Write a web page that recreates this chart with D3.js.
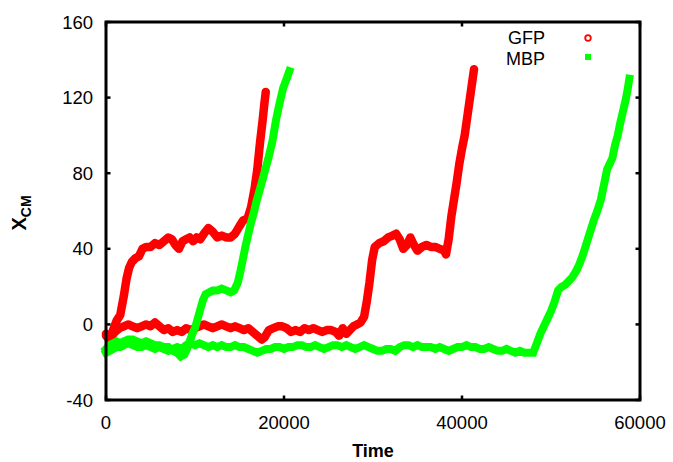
<!DOCTYPE html>
<html>
<head>
<meta charset="utf-8">
<script src="https://cdn.jsdelivr.net/npm/d3@7"></script>
<style>
  html, body { margin: 0; padding: 0; background: #fff; }
  svg { display: block; }
  text { font-family: "Liberation Sans", Arial, Helvetica, sans-serif; fill: #000; }
</style>
</head>
<body>
<svg id="chart" width="673" height="462"></svg>
<script>
// ---- data (time, X_CM) ----
const gfpRun1 = [
  [0,-6],[400,-8],[800,-3],[1200,2],[1600,5],[2000,15],[2300,24],[2600,30],[2900,33],[3300,35],
  [3700,36],[4100,40],[4500,41],[5000,41],[5500,43],[6000,42],[6500,44],[7000,46],[7400,45],[7800,42],
  [8200,40],[8600,44],[9000,45],[9400,46],[9800,44],[10200,46],[10600,45],[11000,48],[11500,51],[12000,49],
  [12500,46],[13000,47],[13500,46],[14000,46],[14500,48],[15000,52],[15400,55],[15900,56],[16300,62],[16700,72],
  [17000,82],[17300,96],[17600,108],[17800,117],[17950,123]
];
const gfpRun2 = [
  [0,-5],[500,-7],[1000,-4],[1500,-2],[2000,-1],[2500,0],[3000,-1],[3500,-2],[4000,-1],[4500,0],
  [5000,-1],[5500,1],[6000,-1],[6500,-3],[7000,-2],[7500,-4],[8000,-3],[8500,-4],[9000,-2],[9500,-3],
  [10000,-2],[10500,-1],[11000,0],[11500,-1],[12000,-2],[12500,-1],[13000,0],[13500,-1],[14000,-2],[14500,-1],
  [15000,-2],[15500,-3],[16000,-2],[16500,-4],[17000,-6],[17500,-8],[17800,-7],[18300,-3],[18800,-2],[19300,-1],
  [19800,-1],[20300,-2],[20800,-4],[21300,-3],[21800,-4],[22300,-2],[22800,-3],[23300,-2],[23800,-3],[24300,-4],
  [24800,-3],[25300,-3],[25800,-4],[26200,-6],[26600,-2],[27000,-5],[27400,-3],[27800,-1],[28200,0],[28600,1],
  [29000,4],[29300,12],[29600,22],[29900,34],[30200,41],[30700,43],[31200,44],[31700,46],[32200,47],[32600,48],
  [33000,45],[33400,40],[33800,42],[34200,46],[34600,42],[35000,39],[35500,41],[36000,42],[36500,41],[37000,41],
  [37500,40],[38000,39],[38200,37],[38500,45],[38800,57],[39100,66],[39400,75],[39700,85],[40000,93],[40300,100],
  [40600,110],[40900,120],[41200,130],[41350,135]
];
const mbpRun1 = [
  [0,-13],[400,-11],[800,-10],[1200,-9],[1600,-10],[2000,-9],[2500,-8],[3000,-8],[3500,-9],[4000,-10],
  [4500,-9],[5000,-10],[5500,-11],[6000,-11],[6500,-12],[7000,-12],[7500,-14],[8000,-15],[8400,-17],[8800,-16],
  [9100,-13],[9400,-9],[9700,-5],[10000,-2],[10300,3],[10600,8],[10900,13],[11200,16],[11600,17],[12000,18],
  [12500,18],[13000,19],[13500,18],[14000,17],[14400,18],[14800,22],[15100,28],[15400,35],[15700,42],[16000,48],
  [16300,54],[16600,59],[16900,65],[17200,70],[17500,75],[17900,82],[18300,89],[18700,97],[19100,108],[19500,117],
  [19900,125],[20300,130],[20600,134]
];
const mbpRun2 = [
  [0,-15],[400,-14],[800,-13],[1200,-12],[1600,-12],[2000,-11],[2500,-10],[3000,-11],[3500,-12],[4000,-12],
  [4500,-11],[5000,-12],[5500,-13],[6000,-12],[6500,-13],[7000,-14],[7500,-13],[8000,-12],[8500,-13],[9000,-11],
  [9500,-10],[10000,-11],[10500,-10],[11000,-11],[11500,-12],[12000,-11],[12500,-12],[13000,-11],[13500,-12],[14000,-12],
  [14500,-11],[15000,-12],[15500,-12],[16000,-13],[16500,-14],[17000,-15],[17500,-14],[18000,-13],[18500,-13],[19000,-12],
  [19500,-12],[20000,-13],[20500,-12],[21000,-12],[21500,-11],[22000,-11],[22500,-12],[23000,-12],[23500,-11],[24000,-12],
  [24500,-13],[25000,-12],[25500,-11],[26000,-11],[26500,-12],[27000,-11],[27500,-12],[28000,-13],[28500,-12],[29000,-11],
  [29500,-12],[30000,-13],[30500,-14],[31000,-14],[31500,-13],[32000,-13],[32500,-14],[33000,-12],[33500,-11],[34000,-11],
  [34500,-12],[35000,-11],[35500,-12],[36000,-12],[36500,-12],[37000,-13],[37500,-12],[38000,-13],[38500,-14],[39000,-13],
  [39500,-12],[40000,-12],[40500,-11],[41000,-12],[41500,-12],[42000,-13],[42500,-13],[43000,-12],[43500,-13],[44000,-14],
  [44500,-14],[45000,-13],[45500,-14],[46000,-15],[46500,-14],[47000,-15],[47500,-15],[48000,-15],[48400,-10],[48800,-5],
  [49200,-1],[49600,3],[50000,7],[50400,12],[50800,18],[51200,20],[51600,21],[52000,23],[52400,25],[52800,28],
  [53200,32],[53600,37],[54000,43],[54400,49],[54800,55],[55200,60],[55600,66],[56000,75],[56300,82],[56600,85],
  [56900,88],[57200,95],[57500,100],[57800,107],[58100,113],[58400,119],[58600,124],[58800,130]
];
const xTicks = [0, 20000, 40000, 60000];
const yTicks = [-40, 0, 40, 80, 120, 160];
const seriesNames = ["GFP", "MBP"];
const seriesColors = ["#ff0000", "#00ff00"];

// ---- layout ----
const svg = d3.select("#chart");
const L = 106, R = 640, T = 22, B = 400;
const x = d3.scaleLinear().domain([0, 60000]).range([L, R]);
const y = d3.scaleLinear().domain([-40, 160]).range([B, T]);

const line = d3.line().x(d => x(d[0])).y(d => y(d[1]));

const plot = svg.append("g");
// GFP runs (open circles, dense -> thick rounded band)
[gfpRun1, gfpRun2].forEach(run => {
  plot.append("path").datum(run).attr("d", line)
    .attr("fill", "none").attr("stroke", seriesColors[0])
    .attr("stroke-width", 8.5).attr("stroke-linejoin", "round").attr("stroke-linecap", "round");
});
// MBP runs (filled squares, dense -> thick band)
[mbpRun1, mbpRun2].forEach(run => {
  plot.append("path").datum(run).attr("d", line)
    .attr("fill", "none").attr("stroke", seriesColors[1])
    .attr("stroke-width", 8).attr("stroke-linejoin", "miter").attr("stroke-linecap", "square");
});

// ---- axes (gnuplot style: inward ticks, mirrored) ----
const tickLen = 4.5;
const axes = svg.append("g").attr("stroke", "#000").attr("stroke-width", 2.5);
xTicks.forEach(t => {
  axes.append("line").attr("x1", x(t)).attr("x2", x(t)).attr("y1", B).attr("y2", B - tickLen);
  axes.append("line").attr("x1", x(t)).attr("x2", x(t)).attr("y1", T).attr("y2", T + tickLen);
});
yTicks.forEach(v => {
  axes.append("line").attr("x1", L).attr("x2", L + tickLen).attr("y1", y(v)).attr("y2", y(v));
  axes.append("line").attr("x1", R).attr("x2", R - tickLen).attr("y1", y(v)).attr("y2", y(v));
});
svg.append("rect").attr("x", L).attr("y", T).attr("width", R - L).attr("height", B - T)
  .attr("fill", "none").attr("stroke", "#000").attr("stroke-width", 3);

// tick labels
svg.append("g").selectAll("text").data(xTicks).join("text")
  .attr("x", d => x(d)).attr("y", 429).attr("text-anchor", "middle")
  .style("font-size", "18.5px").text(d => d);
svg.append("g").selectAll("text").data(yTicks).join("text")
  .attr("x", 93).attr("y", d => y(d) + 6.6).attr("text-anchor", "end")
  .style("font-size", "18.5px").text(d => d);

// axis titles
svg.append("text").attr("x", (L + R) / 2).attr("y", 457).attr("text-anchor", "middle")
  .style("font-size", "18px").style("font-weight", "bold").text("Time");
const yl = svg.append("text").attr("transform", "translate(26,213) rotate(-90)")
  .attr("text-anchor", "middle").style("font-weight", "bold");
yl.append("tspan").style("font-size", "20px").text("X");
yl.append("tspan").style("font-size", "14px").attr("dy", 5).text("CM");

// legend
const leg = svg.append("g");
leg.append("text").attr("x", 545).attr("y", 44).attr("text-anchor", "end")
  .style("font-size", "18px").text(seriesNames[0]);
leg.append("text").attr("x", 545).attr("y", 65).attr("text-anchor", "end")
  .style("font-size", "18px").text(seriesNames[1]);
leg.append("circle").attr("cx", 588).attr("cy", 38).attr("r", 2.8)
  .attr("fill", "none").attr("stroke", seriesColors[0]).attr("stroke-width", 1.8);
leg.append("rect").attr("x", 585).attr("y", 54).attr("width", 6).attr("height", 6)
  .attr("fill", seriesColors[1]);
</script>
</body>
</html>
